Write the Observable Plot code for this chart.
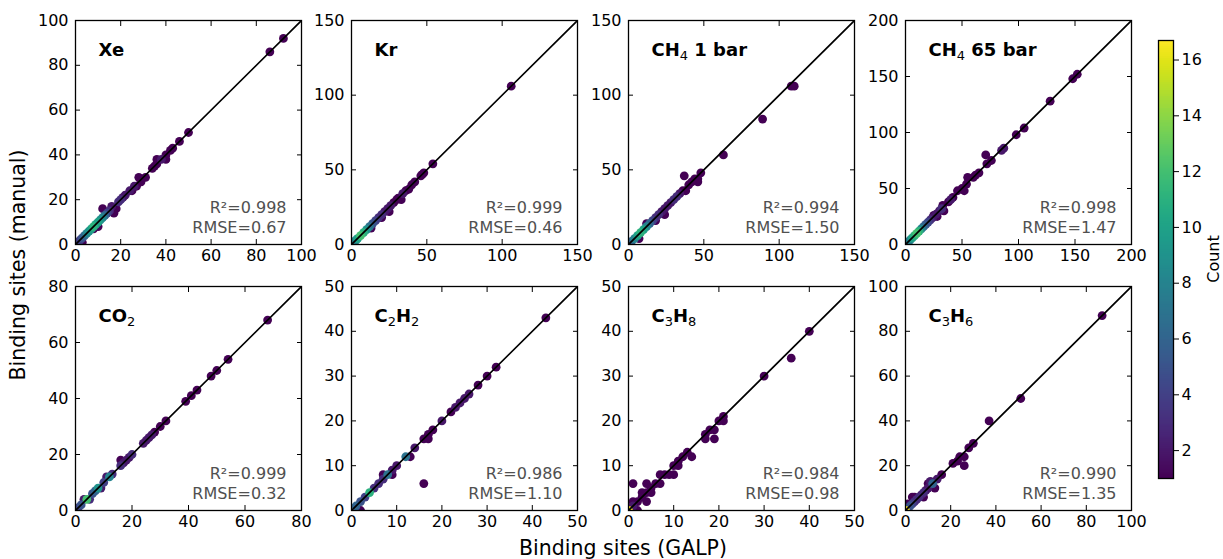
<!DOCTYPE html>
<html><head><meta charset="utf-8">
<script src="https://cdn.jsdelivr.net/npm/d3@7"></script>
<script src="https://cdn.jsdelivr.net/npm/@observablehq/plot@0.6"></script>
<style>
body{margin:0;background:#fff;font-family:"DejaVu Sans",sans-serif;}
#fig{position:relative;width:1223px;height:559px;overflow:hidden;background:#fff}
.pn{position:absolute}
.lab{position:absolute;white-space:nowrap;color:#000;font-family:"DejaVu Sans",sans-serif;transform:translate(-50%,-50%)}
</style></head><body><div id="fig"></div>
<script>
// ---- data (x = GALP, y = manual, c = count) ----
const panelNames = ["Xe","Kr","CH4 1 bar","CH4 65 bar","CO2","C2H2","C3H8","C3H6"];
const axisMax = [100,150,150,200,80,50,50,100];
const tickStep = [20,50,50,50,20,10,10,20];
const r2Values = ["0.998","0.999","0.994","0.998","0.999","0.986","0.984","0.990"];
const rmseValues = ["0.67","0.46","1.50","1.47","0.32","1.10","0.98","1.35"];

const xeGalp   = [92,86,50,46,43,42,40,40,38,36,36,35,34,31,28,29,27,26,25,24,22,21,20,19,18,17,16,15,12,14,13,12,11,10,9,8,7,6,5,4,3,2,1,10,8,3];
const xeManual = [92,86,50,46,43,42,38,40,38,38,36,35,34,30,30,28,26,26,24,24,22,21,20,19,16,14,17,15,16,14,13,12,11,10,9,8,7,6,5,4,3,2,1,8,7,1];
const xeCount  = [1,1,1,1,1,1,1,1,2,1,1,1,1,1,1,1,1,2,1,2,2,2,3,3,1,1,2,3,1,4,6,8,9,10,10,11,10,9,8,6,5,4,3,1,1,1];

const krGalp   = [106,54,48,47,46,42,40,38,36,34,33,31,30,28,26,24,22,20,18,16,14,12,10,8,6,4,3,2,1,25,20,13];
const krManual = [106,54,48,47,46,42,40,37,36,34,30,31,30,28,26,24,22,20,18,16,14,12,10,8,6,4,3,2,1,22,18,11];
const krCount  = [1,1,1,1,1,1,1,1,1,2,1,1,1,1,2,2,2,3,3,4,5,7,9,11,12,10,8,6,4,1,1,1];

const ch4aGalp   = [110,108,89,63,48,46,46,44,42,40,37,38,36,34,32,30,28,26,24,24,22,20,18,18,16,14,12,10,8,6,4,2,1,12,7];
const ch4aManual = [106,106,84,60,48,42,44,44,42,40,46,36,36,34,32,30,28,26,20,24,22,20,16,18,16,14,12,10,8,6,4,2,1,14,4];
const ch4aCount  = [1,1,1,1,1,1,1,1,1,1,1,1,1,2,3,3,2,2,1,2,2,3,1,3,4,6,8,10,11,10,8,6,4,1,1];

const ch4bGalp   = [152,148,128,105,98,87,85,76,71,72,65,62,60,55,54,52,50,46,42,40,38,34,33,32,30,27,25,24,22,20,18,16,14,12,10,8,6,4,2,1,28];
const ch4bManual = [152,148,128,104,98,86,84,75,80,72,64,62,60,60,54,48,50,48,42,40,38,30,35,32,30,27,26,24,22,20,18,16,14,12,10,8,6,4,2,1,25];
const ch4bCount  = [1,1,1,1,1,2,2,1,1,1,1,1,1,1,1,1,1,1,1,2,1,1,1,3,2,2,1,2,3,4,5,6,8,11,12,11,10,8,5,3,1];

const co2Galp   = [68,54,50,48,43,41,39,32,30,28,27,26,25,24,20,19,18,16,17,16,13,12,11,10,9,8,7,6,5,4,3,2,1];
const co2Manual = [68,54,50,48,43,41,39,32,30,28,27,26,25,24,20,19,18,18,17,16,13,12,12,10,8,8,7,6,4,4,4,2,1];
const co2Count  = [1,1,1,1,1,1,1,1,1,1,2,2,2,2,3,2,2,1,2,3,3,8,2,4,2,9,6,5,3,12,2,5,4];

const c2h2Galp   = [43,32,30,28,26,25,24,23,22,20,18,17,16,17,14,13,12,16,10,9,9,8,7,7,6,5,4,3,2,1,2];
const c2h2Manual = [43,32,30,28,26,25,24,23,22,20,18,17,16,16,14,12,12,6,10,8,9,8,8,7,6,5,4,3,2,1,0];
const c2h2Count  = [1,1,1,1,2,2,2,2,1,2,1,1,1,1,2,1,7,1,2,1,2,7,1,3,3,3,11,4,5,6,1];

const c3h8Galp   = [40,36,30,21,21,20,19,18,17,17,19,14,13,12,11,11,10,10,8,7,7,6,5,5,4,4,3,4,3,2,1,1,2,1,0,9];
const c3h8Manual = [40,34,30,21,20,20,18,18,17,16,16,12,13,12,11,10,10,8,8,8,6,6,5,4,6,4,4,2,3,2,6,2,0,1,0,8];
const c3h8Count  = [1,1,1,1,1,1,1,1,1,1,1,1,1,1,1,1,1,1,1,1,1,1,1,1,1,1,1,1,1,1,1,1,1,2,17,1];

const c3h6Galp   = [87,51,37,30,28,26,26,24,23,21,16,14,13,12,11,10,10,9,8,8,7,6,5,4,4,3,3,2,1,1,0];
const c3h6Manual = [87,50,40,30,28,24,20,24,22,21,16,14,10,12,13,12,10,9,8,6,7,6,5,6,4,3,6,2,1,3,0];
const c3h6Count  = [1,1,1,1,1,1,1,1,1,1,1,2,1,6,2,1,2,2,3,1,2,3,3,1,3,4,1,5,4,1,17];

const countDomain = [1, 16.7];
const colorbarTicks = [2,4,6,8,10,12,14,16];

const galpSets   = [xeGalp, krGalp, ch4aGalp, ch4bGalp, co2Galp, c2h2Galp, c3h8Galp, c3h6Galp];
const manualSets = [xeManual, krManual, ch4aManual, ch4bManual, co2Manual, c2h2Manual, c3h8Manual, c3h6Manual];
const countSets  = [xeCount, krCount, ch4aCount, ch4bCount, co2Count, c2h2Count, c3h8Count, c3h6Count];

// ---- layout ----
const fig = document.getElementById("fig");
const colLeft = [75, 351, 628, 905], rowTop = [20, 286];
const PW = 226, PH = 224, mL = 45, mR = 12, mT = 10, mB = 28;
const color = {type: "linear", scheme: "viridis", domain: countDomain};
const baseStyle = {fontFamily: "DejaVu Sans", fontSize: "16px", background: "transparent", color: "#000", overflow: "visible"};

function subscriptify(svg) {
  svg.querySelectorAll(".ttl text").forEach(t => {
    const s = t.textContent;
    t.textContent = "";
    let groups = [];
    for (let k = 0; k < s.length; k++) {
      const ch = s[k];
      const sub = /\d/.test(ch) && k > 0 && /[A-Za-z]/.test(s[k-1]);
      if (groups.length && groups[groups.length-1].sub === sub) groups[groups.length-1].txt += ch;
      else groups.push({sub, txt: ch});
    }
    let shifted = false;
    groups.forEach(g => {
      const ts = document.createElementNS("http://www.w3.org/2000/svg", "tspan");
      ts.textContent = g.txt;
      if (g.sub) {
        ts.setAttribute("font-size", "13px");
        ts.setAttribute("font-weight", "normal");
        ts.setAttribute("dy", "4");
        shifted = true;
      } else if (shifted) {
        ts.setAttribute("dy", "-4");
        shifted = false;
      }
      t.appendChild(ts);
    });
  });
}

panelNames.forEach((name, i) => {
  const col = i % 4, row = Math.floor(i / 4);
  const max = axisMax[i];
  const data = galpSets[i].map((g, k) => ({galp: g, manual: manualSets[i][k], count: countSets[i][k]}))
    .sort((a, b) => a.count - b.count);
  const ticks = d3.range(0, max + 1e-9, tickStep[i]);
  const diag = [0, max];
  const chart = Plot.plot({
    width: PW + mL + mR, height: PH + mT + mB,
    marginLeft: mL, marginRight: mR, marginTop: mT, marginBottom: mB,
    style: baseStyle,
    x: {domain: [0, max]},
    y: {domain: [0, max]},
    color,
    marks: [
      Plot.dot(data, {x: "galp", y: "manual", fill: "count", r: 4.4, clip: true}),
      Plot.line(diag, {x: d => d, y: d => d, stroke: "#000", strokeWidth: 1.7, clip: true}),
      Plot.axisX(ticks, {anchor: "bottom", tickSize: -5, fill: "none", label: null}),
      Plot.axisX(ticks, {anchor: "top", tickSize: -5, fill: "none", label: null}),
      Plot.axisY(ticks, {anchor: "left", tickSize: -5, fill: "none", label: null}),
      Plot.axisY(ticks, {anchor: "right", tickSize: -5, fill: "none", label: null}),
      Plot.axisX(ticks, {anchor: "bottom", tickSize: 0, tickPadding: 5, label: null, fontSize: 16}),
      Plot.axisY(ticks, {anchor: "left", tickSize: 0, tickPadding: 7, label: null, fontSize: 16}),
      Plot.frame({stroke: "#000", strokeWidth: 1.3}),
      Plot.text([name], {frameAnchor: "top-left", dx: 23, dy: 30, textAnchor: "start", lineAnchor: "middle",
        fontWeight: "bold", fontSize: 18, fill: "#000", className: "ttl"}),
      Plot.text([`R²=${r2Values[i]}\nRMSE=${rmseValues[i]}`], {frameAnchor: "bottom-right", dx: -15, dy: -12,
        textAnchor: "end", lineAnchor: "bottom", lineHeight: 1.22, fill: "#505050", fontSize: 16})
    ]
  });
  subscriptify(chart);
  chart.classList.add("pn");
  chart.style.left = (colLeft[col] - mL) + "px";
  chart.style.top = (rowTop[row] - mT) + "px";
  chart.style.position = "absolute";
  fig.appendChild(chart);
});

// ---- colorbar ----
const nSteps = 220;
const stepH = (countDomain[1] - countDomain[0]) / nSteps;
const steps = d3.range(nSteps).map(k => countDomain[0] + k * stepH);
const cbar = Plot.plot({
  width: 1 + 15 + 40, height: 438 + 20,
  marginLeft: 1, marginRight: 40, marginTop: 10, marginBottom: 10,
  style: baseStyle,
  x: {domain: [0, 1], axis: null},
  y: {domain: countDomain, axis: null},
  color,
  marks: [
    Plot.rect(steps, {x1: 0, x2: 1, y1: d => d, y2: d => Math.min(countDomain[1], d + stepH * 1.5),
      fill: d => d + stepH / 2, stroke: d => d + stepH / 2, strokeWidth: 0.6, shapeRendering: "crispEdges"}),
    Plot.frame({stroke: "#000", strokeWidth: 1.3}),
    Plot.axisY(colorbarTicks, {anchor: "right", tickSize: 5, tickPadding: 3, label: null, fontSize: 16})
  ]
});
cbar.style.position = "absolute";
cbar.style.left = "1157px";
cbar.style.top = "30px";
fig.appendChild(cbar);

// ---- shared axis titles ----
function label(text, x, y, size, rotate) {
  const d = document.createElement("div");
  d.className = "lab";
  d.textContent = text;
  d.style.left = x + "px";
  d.style.top = y + "px";
  d.style.fontSize = size + "px";
  if (rotate) d.style.transform = "translate(-50%,-50%) rotate(-90deg)";
  fig.appendChild(d);
}
label("Binding sites (manual)", 18, 265, 20.5, true);
label("Binding sites (GALP)", 623, 548, 20.5, false);
label("Count", 1213, 259, 16, true);
</script>
</body></html>
